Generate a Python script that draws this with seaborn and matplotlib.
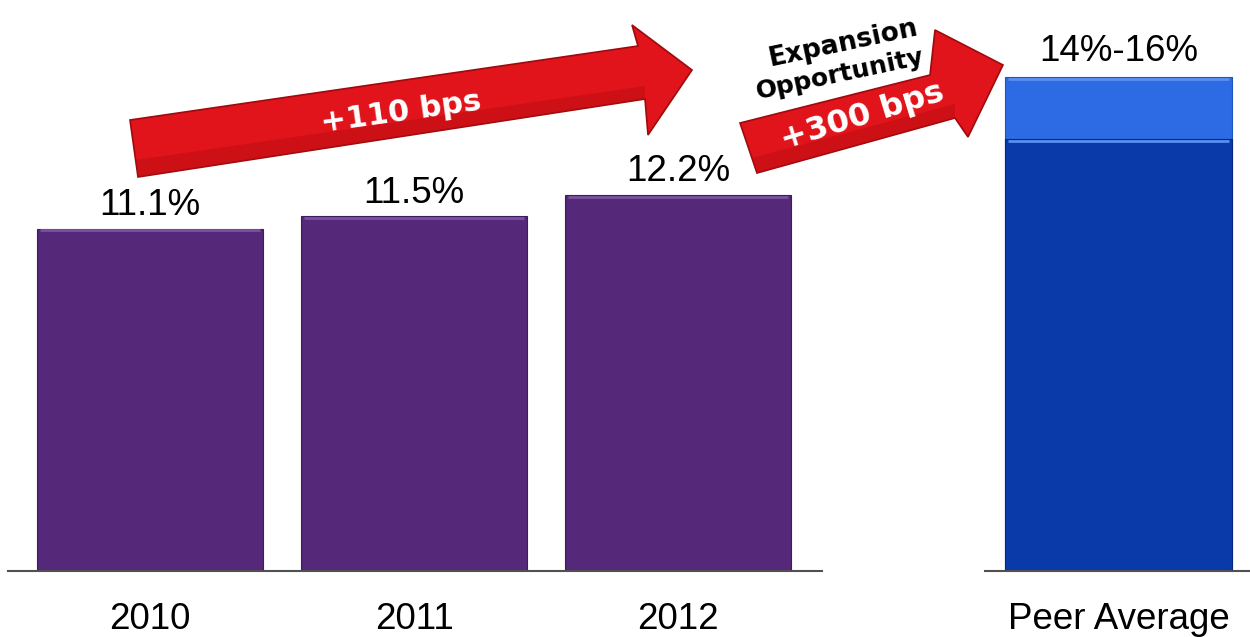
import matplotlib
matplotlib.use("Agg")
import matplotlib.pyplot as plt
import matplotlib.patches as mpatches
from matplotlib.transforms import Affine2D
import seaborn as sns
import pandas as pd

# Operating margin by year and the peer range
years = ["2010", "2011", "2012"]
margins = [11.1, 11.5, 12.2]
margin_labels = ["11.1%", "11.5%", "12.2%"]

peer_category = ["Peer Average"]
peer_low = [14.0]
peer_high = [16.0]
peer_label = "14%-16%"

growth_text = "+110 bps"
gap_text = "+300 bps"
gap_caption = ["Expansion", "Opportunity"]

PURPLE = "#55287A"
BLUE_DARK = "#0A3AAA"
BLUE_LIGHT = "#2C6BE3"
RED = "#E0141A"
RED_DARK = "#B80C10"
RED_EDGE = "#9E0A0E"

sns.set_theme(style="white")
plt.rcParams["font.family"] = ["Liberation Sans", "DejaVu Sans"]

W, H = 1250, 637
fig = plt.figure(figsize=(W / 100, H / 100), dpi=100)

YMAX = 18.51
BAR_W = 0.856

ax = fig.add_axes([8 / W, (H - 571) / H, 814 / W, 571 / H])
ax2 = fig.add_axes([985 / W, (H - 571) / H, 265 / W, 571 / H])

df = pd.DataFrame({"year": years, "margin": margins})
sns.barplot(data=df, x="year", y="margin", color=PURPLE, width=BAR_W,
            saturation=1, ax=ax, edgecolor="#3E1A5E", linewidth=0.8)

peer = pd.DataFrame({"cat": peer_category, "low": peer_low, "high": peer_high})
sns.barplot(data=peer, x="cat", y="high", color=BLUE_LIGHT, width=BAR_W,
            saturation=1, ax=ax2, edgecolor="#1D55C4", linewidth=0.8)
sns.barplot(data=peer, x="cat", y="low", color=BLUE_DARK, width=BAR_W,
            saturation=1, ax=ax2, edgecolor="#06287A", linewidth=0.8)

# light bevel along the top edge of each bar
for a, tint in ((ax, "#7A52A0"), (ax2, "#5A8EF0")):
    for bar in a.patches:
        x0, w, top = bar.get_x(), bar.get_width(), bar.get_y() + bar.get_height()
        a.plot([x0 + 0.01, x0 + w - 0.01], [top - 0.06, top - 0.06],
               color=tint, lw=2, solid_capstyle="butt", zorder=3)

for a, lo, hi in ((ax, -0.538, 2.545), (ax2, -0.505, 0.498)):
    a.set_xlim(lo, hi)
    a.set_ylim(0, YMAX)
    a.set_xlabel("")
    a.set_ylabel("")
    a.set_yticks([])
    for s in ("top", "right", "left"):
        a.spines[s].set_visible(False)
    a.spines["bottom"].set_color("#505050")
    a.spines["bottom"].set_linewidth(1.5)
    a.tick_params(axis="x", length=0, pad=22, labelsize=26.5, labelcolor="black")
    a.patch.set_alpha(0)

# value labels above the bars
for i, (v, lab) in enumerate(zip(margins, margin_labels)):
    ax.annotate(lab, (i, v), xytext=(0, 4), textcoords="offset points",
                ha="center", va="bottom", fontsize=26.5, color="black")
ax2.annotate(peer_label, (0, peer_high[0]), xytext=(0, 6), textcoords="offset points",
             ha="center", va="bottom", fontsize=26.5, color="black")

# pixel transform with origin at top-left for the decorative arrows
px = Affine2D().scale(1, -1).translate(0, H).scale(1 / W, 1 / H) + fig.transFigure

arrow1 = [(130, 120), (638, 46), (632, 25), (692, 70), (648, 135), (645, 99), (138, 177)]
arrow2 = [(740, 123), (930, 75), (935, 30), (1003, 65), (968, 137), (955, 118), (757, 173)]
# darker lower band of each arrow shaft
shade1 = [(136, 160), (645, 86), (645, 99), (138, 177)]
shade2 = [(752, 158), (955, 104), (955, 118), (757, 173)]
for pts, shade in ((arrow1, shade1), (arrow2, shade2)):
    fig.patches.append(mpatches.Polygon(pts, closed=True, transform=px,
                                        facecolor=RED, edgecolor=RED_EDGE,
                                        linewidth=1.2, zorder=5))
    fig.patches.append(mpatches.Polygon(shade, closed=True, transform=px,
                                        facecolor=RED_DARK, edgecolor="none",
                                        alpha=0.45, zorder=5))

fig.text(401, 112, growth_text, transform=px, rotation=8, ha="center", va="center",
         fontsize=22, fontweight="bold", color="white", family="DejaVu Sans", zorder=6)
fig.text(862, 116, gap_text, transform=px, rotation=17, ha="center", va="center",
         fontsize=23, fontweight="bold", color="white", family="DejaVu Sans", zorder=6)
fig.text(843, 43, gap_caption[0], transform=px, rotation=12, ha="center", va="center",
         fontsize=19, fontweight="bold", color="black", family="DejaVu Sans", zorder=6)
fig.text(840, 74, gap_caption[1], transform=px, rotation=12, ha="center", va="center",
         fontsize=18, fontweight="bold", color="black", family="DejaVu Sans", zorder=6)

fig.savefig("out.png", dpi=100)
